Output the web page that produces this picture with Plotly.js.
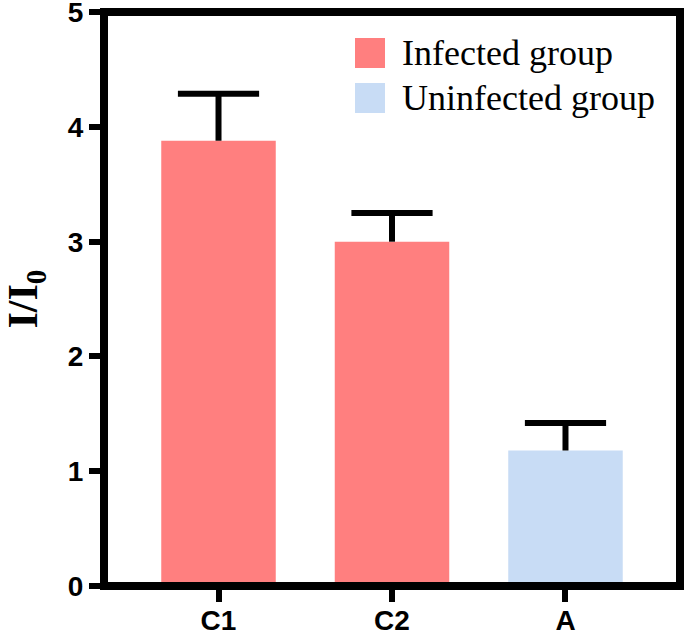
<!DOCTYPE html>
<html>
<head>
<meta charset="utf-8">
<script src="https://cdn.plot.ly/plotly-3.0.1.min.js"></script>
<style>
  html, body { margin: 0; padding: 0; background: #fff; }
  #chart { width: 685px; height: 638px; }
</style>
</head>
<body>
<div id="chart"></div>
<script>
// data
const infectedCats = ["C1", "C2"];
const infectedVals = [3.88, 3.0];
const infectedErr = [0.41, 0.25];

const uninfectedCats = ["A"];
const uninfectedVals = [1.18];
const uninfectedErr = [0.24];

const seriesNames = ["Infected group", "Uninfected group"];
const seriesColors = ["#FF7F7F", "#C8DCF5"];
const yTicks = [0, 1, 2, 3, 4, 5];

// upper stem only, the cap is drawn by a marker so no cap sits on the bar top
function errorBar(vals) {
    return {
        type: 'data',
        symmetric: false,
        array: vals,
        arrayminus: vals.map(() => 0),
        color: '#000',
        thickness: 6,
        width: 0
    };
}

let infectedTrace = {
    x: infectedCats,
    y: infectedVals,
    type: 'bar',
    name: seriesNames[0],
    width: 0.66,
    marker: { color: seriesColors[0] },
    error_y: errorBar(infectedErr)
};

let uninfectedTrace = {
    x: uninfectedCats,
    y: uninfectedVals,
    type: 'bar',
    name: seriesNames[1],
    width: 0.66,
    marker: { color: seriesColors[1] },
    error_y: errorBar(uninfectedErr)
};

let allCats = infectedCats.concat(uninfectedCats);
let allTops = infectedVals.map((v, i) => v + infectedErr[i])
    .concat(uninfectedVals.map((v, i) => v + uninfectedErr[i]));

let capTrace = {
    x: allCats,
    y: allTops,
    type: 'scatter',
    mode: 'markers',
    hoverinfo: 'skip',
    showlegend: false,
    marker: { symbol: 'line-ew', size: 58, color: '#000', line: { color: '#000', width: 6 } }
};

// hand-made legend (big square swatches like the original)
const plotW = 685 - 104 - 5;
const plotH = 638 - 12 - 52;
function px(x) { return (x - 104) / plotW; }
function py(y) { return (638 - 52 - y) / plotH; }

const legendRows = [53, 98];
let shapes = [
    // thick frame around the plot area
    { type: 'rect', xref: 'paper', yref: 'paper', x0: 0, x1: 1, y0: 0, y1: 1,
      line: { color: '#000', width: 8 }, layer: 'above' }
];
let annotations = [];
seriesNames.forEach((name, i) => {
    let cy = legendRows[i];
    shapes.push({
        type: 'rect', xref: 'paper', yref: 'paper',
        x0: px(355), x1: px(385), y0: py(cy + 15), y1: py(cy - 15),
        fillcolor: seriesColors[i], line: { width: 0 }
    });
    annotations.push({
        xref: 'paper', yref: 'paper', x: px(400), y: py(cy),
        xanchor: 'left', yanchor: 'middle', showarrow: false,
        text: name,
        font: { family: 'Liberation Serif', size: 36, color: '#000' }
    });
});

let layout = {
    width: 685,
    height: 638,
    margin: { l: 104, r: 5, t: 12, b: 52 },
    paper_bgcolor: '#fff',
    plot_bgcolor: '#fff',
    barmode: 'overlay',
    showlegend: false,
    xaxis: {
        type: 'category',
        categoryorder: 'array',
        categoryarray: allCats,
        range: [-0.66, 2.66],
        showline: false,
        showgrid: false,
        zeroline: false,
        ticks: 'outside',
        ticklen: 15,
        tickwidth: 6,
        tickcolor: '#000',
        ticklabelstandoff: -6,
        tickfont: { family: 'Liberation Sans', size: 28, color: '#000', weight: 'bold' },
        fixedrange: true
    },
    yaxis: {
        range: [-0.001, 5.002],
        tickmode: 'array',
        tickvals: yTicks,
        ticktext: yTicks.map(String),
        ticklabeloverflow: 'allow',
        showline: false,
        showgrid: false,
        zeroline: false,
        ticks: 'outside',
        ticklen: 14,
        tickwidth: 6,
        tickcolor: '#000',
        tickfont: { family: 'Liberation Sans', size: 28, color: '#000', weight: 'bold' },
        title: {
            text: '<b>I/I<sub>0</sub></b>',
            font: { family: 'Liberation Serif', size: 42, color: '#000' },
            standoff: 18
        },
        fixedrange: true
    },
    shapes: shapes,
    annotations: annotations
};

Plotly.newPlot('chart', [infectedTrace, uninfectedTrace, capTrace], layout, { displayModeBar: false, staticPlot: true });
</script>
</body>
</html>
